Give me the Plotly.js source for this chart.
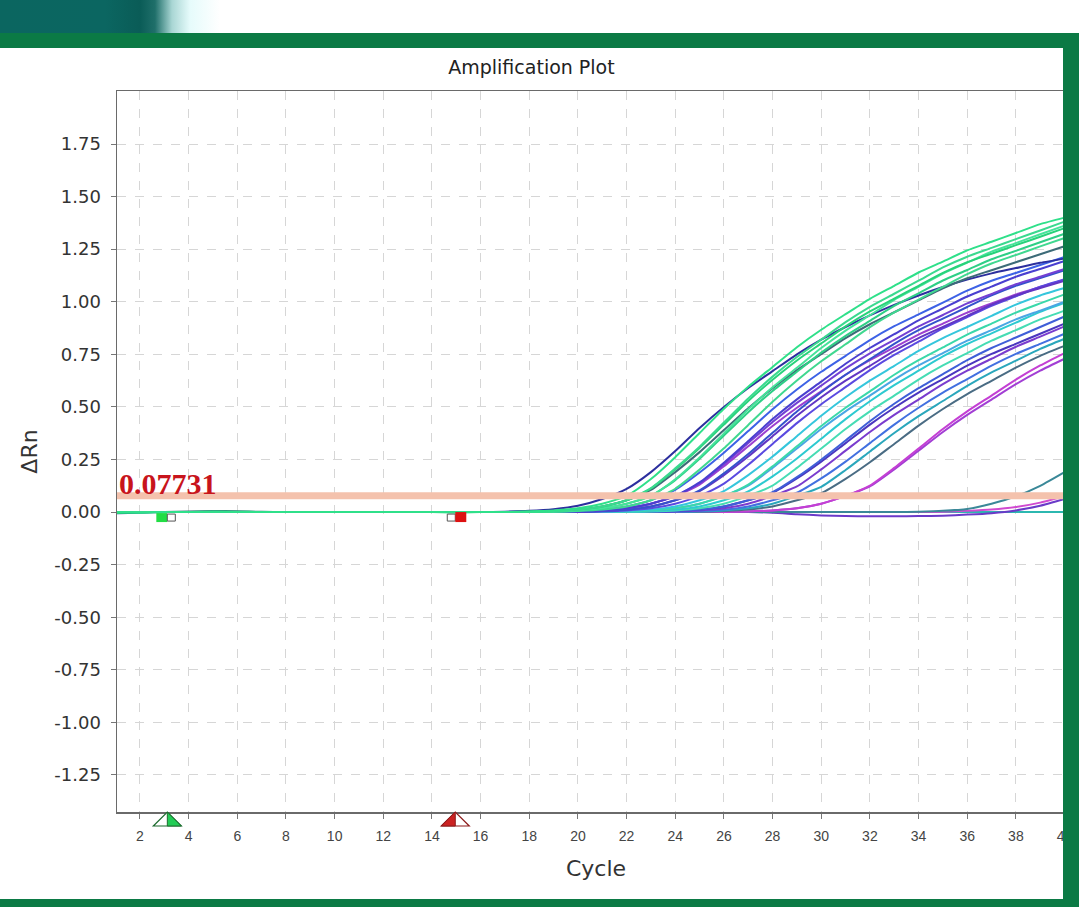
<!DOCTYPE html>
<html>
<head>
<meta charset="utf-8">
<script src="https://cdn.plot.ly/plotly-3.0.1.min.js"></script>
<style>
  html, body { margin: 0; padding: 0; background: #ffffff; overflow: hidden; }
  #chart { position: absolute; left: 0; top: 0; width: 1090px; height: 907px; }
  .frame { position: absolute; z-index: 10; pointer-events: none; }
</style>
</head>
<body>
<div id="chart"></div>
<div class="frame" style="left:0;top:0;width:230px;height:33px;background:linear-gradient(to right,#0b6660 0px,#0b6661 105px,#0a5c57 140px,#1f6f6a 155px,#a9d6d4 172px,#e6fbfb 190px,#ffffff 220px);"></div>
<div class="frame" style="left:0;top:33px;width:1079px;height:15px;background:#0b7a45;"></div>
<div class="frame" style="left:1063px;top:33px;width:16px;height:874px;background:#0b7a45;"></div>
<div class="frame" style="left:0;top:899px;width:1079px;height:8px;background:#0b7a45;"></div>
<script>
// ---------------- data ----------------
const cycles = [1,2,3,4,5,6,7,8,9,10,11,12,13,14,15,16,17,18,19,20,21,22,23,24,25,26,27,28,29,30,31,32,33,34,35,36,37,38,39,40];

const thresholdValue = 0.07731;
const baselineStart = 3;
const baselineEnd = 15;

const yTickVals = [-1.25,-1.0,-0.75,-0.5,-0.25,0,0.25,0.5,0.75,1.0,1.25,1.5,1.75];
const yTickText = ["-1.25","-1.00","-0.75","-0.50","-0.25","0.00","0.25","0.50","0.75","1.00","1.25","1.50","1.75"];
const xTickVals = [2,4,6,8,10,12,14,16,18,20,22,24,26,28,30,32,34,36,38,40];
const xTickText = ["2","4","6","8","10","12","14","16","18","20","22","24","26","28","30","32","34","36","38","40"];

// green group
const wellG1 = [0,-0.003,0,0,0.003, 0.002,0,0,0,0, 0,0,0,0,0, 0, 0,0.003,0.008,0.018,0.040,0.077,0.157,0.261,0.376,0.491,0.596,0.690,0.784,0.867,0.941,1.014,1.076,1.139,1.191,1.244,1.285,1.327,1.369,1.400];
const wellG2 = [0,0,0,0,0, 0,0,0,0,0, 0,0,0,0,0, 0, 0,0.001,0.005,0.012,0.027,0.056,0.114,0.208,0.311,0.426,0.540,0.644,0.737,0.820,0.903,0.976,1.038,1.100,1.163,1.214,1.256,1.298,1.339,1.381];
const wellG3 = [-0.004,-0.002,0,0,0, 0,0,0,0,0, 0,0,0,0,-0.002, 0, 0,0.001,0.005,0.012,0.027,0.056,0.112,0.203,0.305,0.416,0.528,0.629,0.721,0.802,0.883,0.954,1.015,1.076,1.137,1.188,1.228,1.269,1.309,1.350];
const wellG4 = [0,0,0,0,0, 0,0,0,0,0, 0,0,0,0,0, 0,0, 0,0.003,0.008,0.018,0.040,0.077,0.156,0.260,0.374,0.489,0.593,0.686,0.780,0.863,0.936,1.009,1.071,1.134,1.186,1.238,1.279,1.321,1.362];
const wellG5 = [0,0,0,0,0, 0,0,0,0,0, 0,0,0,0,0, 0,0, 0,0.003,0.008,0.018,0.040,0.077,0.152,0.253,0.364,0.475,0.576,0.667,0.758,0.838,0.909,0.980,1.040,1.101,1.151,1.202,1.242,1.283,1.323];
const wellG6 = [0,0,0,0,0, 0,0,0,0,0, 0,0,0,0,0, 0,0, 0,0.001,0.005,0.012,0.027,0.056,0.111,0.202,0.303,0.414,0.525,0.626,0.717,0.798,0.879,0.949,1.010,1.071,1.131,1.182,1.222,1.263,1.303];
const wellD1 = [0,0,0,0.003,0.005, 0.004,0.001,0,0,0, 0,0,0,0,0, 0,0, 0.001,0.005,0.012,0.027,0.056,0.105,0.190,0.285,0.390,0.494,0.589,0.675,0.751,0.827,0.893,0.950,1.007,1.064,1.112,1.150,1.188,1.226,1.264];
const wellN1 = [-0.006,-0.003,0,0,0, 0,0,0,0,0, 0,0,0,0,0, 0,0.002,0.006,0.014,0.030,0.062,0.110,0.190,0.290,0.400,0.500,0.590,0.670,0.750,0.820,0.880,0.935,0.985,1.030,1.070,1.105,1.135,1.160,1.185,1.205];
// blue / purple group
const wellB1 = [0,0,0,0,0, 0,0,0,0,0, 0,0,0,0,0, 0,0,0, 0.001,0.005,0.012,0.027,0.056,0.106,0.188,0.282,0.385,0.489,0.583,0.667,0.743,0.818,0.884,0.940,0.996,1.053,1.100,1.137,1.175,1.213];
const wellB2 = [0,0,0,0,0, 0,0,0,0,0, 0,0,0,0,0, 0,0,0,0, 0.003,0.008,0.018,0.040,0.077,0.141,0.235,0.338,0.442,0.536,0.620,0.705,0.780,0.846,0.912,0.968,1.025,1.072,1.119,1.156,1.194];
const wellB3 = [0,0,0,0,0, 0,0,0,0,0, 0,0,0,0,0, 0,0,0,0, 0.003,0.008,0.018,0.040,0.077,0.137,0.228,0.328,0.428,0.519,0.601,0.683,0.755,0.819,0.883,0.937,0.992,1.037,1.083,1.119,1.156];
const wellB4 = [0,0,0,0,0, 0,0,0,0,0, 0,0,0,0,0, 0,0,0,0, 0.001,0.005,0.012,0.027,0.056,0.103,0.184,0.276,0.377,0.478,0.570,0.653,0.727,0.800,0.865,0.920,0.975,1.030,1.076,1.113,1.150];
const wellB5 = [0,0,0,0,0, 0,0,0,0,0, 0,0,0,0,0, 0,0,0,0, 0.001,0.005,0.012,0.027,0.056,0.100,0.176,0.264,0.361,0.458,0.546,0.625,0.695,0.766,0.827,0.880,0.933,0.986,1.030,1.065,1.100];
const wellB6 = [0,0,0,0,0, 0,0,0,0,0, 0,0,0,0,0, 0,0,0,0,0, 0.003,0.008,0.018,0.040,0.077,0.135,0.225,0.324,0.423,0.513,0.594,0.675,0.747,0.810,0.873,0.927,0.981,1.026,1.071,1.107];
const wellB7 = [0,0,0,0,0, 0,0,0,0,0, 0,0,0,0,0, 0,0,0,0, 0.003,0.008,0.018,0.040,0.077,0.131,0.218,0.313,0.409,0.496,0.574,0.653,0.722,0.783,0.844,0.896,0.948,0.992,1.035,1.070,1.105];
// cyan group
const wellC1 = [0,0,0,0,0, 0,0,0,0,0, 0,0,0,0,0, 0,0,0,0,0, 0.001,0.005,0.012,0.027,0.056,0.100,0.176,0.264,0.361,0.458,0.546,0.625,0.695,0.766,0.827,0.880,0.933,0.986,1.030,1.065];
const wellC2 = [0,0,0,0,0, 0,0,0,0,0, 0,0,0,0,0, 0,0,0,0,0, 0, 0.003,0.008,0.018,0.040,0.077,0.131,0.218,0.313,0.409,0.496,0.574,0.653,0.722,0.783,0.844,0.896,0.948,0.992,1.035];
const wellC3 = [0,0,0,0,0, 0,0,0,0,0, 0,0,0,0,0, 0,0,0,0,0, 0, 0.003,0.008,0.018,0.040,0.077,0.126,0.210,0.302,0.395,0.479,0.554,0.630,0.697,0.756,0.815,0.865,0.916,0.958,1.000];
const wellC4 = [0,0,0,0,0, 0,0,0,0,0, 0,0,0,0,0, 0,0,0,0,0, 0, 0.001,0.005,0.012,0.027,0.056,0.098,0.170,0.255,0.349,0.442,0.527,0.604,0.672,0.740,0.799,0.850,0.901,0.952,0.995];
const wellC5 = [0,0,0,0,0, 0,0,0,0,0, 0,0,0,0,0, 0,0,0,0,0, 0,0, 0.003,0.008,0.018,0.040,0.077,0.126,0.210,0.302,0.395,0.479,0.554,0.630,0.697,0.756,0.815,0.865,0.916,0.958];
// later blue / purple group
const wellP1 = [0,0,0,0,0, 0,0,0,0,0, 0,0,0,0,0, 0,0,0,0,0, 0,0, 0.001,0.005,0.012,0.027,0.056,0.095,0.166,0.249,0.340,0.432,0.515,0.589,0.656,0.722,0.780,0.830,0.880,0.930];
const wellP2 = [0,0,0,0,0, 0,0,0,0,0, 0,0,0,0,0, 0,0,0,0,0, 0,0, 0.001,0.005,0.012,0.027,0.056,0.092,0.160,0.240,0.328,0.416,0.496,0.568,0.632,0.696,0.752,0.800,0.848,0.896];
const wellP3 = [0,0,0,0,0, 0,0,0,0,0, 0,0,0,0,0, 0,0,0,0,0, 0,0,0, 0.003,0.008,0.018,0.040,0.077,0.122,0.203,0.292,0.381,0.462,0.535,0.608,0.672,0.729,0.786,0.834,0.883];
const wellP4 = [0,0,0,0,0, 0,0,0,0,0, 0,0,0,0,0, 0,0,0,0,0, 0,0,0, 0.001,0.005,0.012,0.027,0.056,0.092,0.160,0.240,0.328,0.416,0.496,0.568,0.632,0.696,0.752,0.800,0.848];
// teal and magenta
const wellT1 = [0,0,0,0,0, 0,0,0,0,0, 0,0,0,0,0, 0,0,0,0,0, 0,0,0,0, 0.003,0.008,0.018,0.040,0.077,0.120,0.200,0.288,0.376,0.456,0.528,0.600,0.664,0.720,0.776,0.824];
const wellT2 = [0,0,0,0,0, 0,0,0,0,0, 0,0,0,0,0, 0,0,0,0,0, 0,0,0,0, 0.001,0.005,0.012,0.027,0.056,0.090,0.158,0.237,0.324,0.411,0.490,0.561,0.624,0.687,0.743,0.790];
const wellM1 = [0,0,0,0,0, 0,0,0,0,0, 0,0,0,0,0, 0,0,0,0,0, 0,0,0,0,0, 0, 0.003,0.008,0.018,0.040,0.077,0.126,0.210,0.302,0.395,0.479,0.554,0.630,0.697,0.756];
const wellM2 = [0,0,0,0,0, 0,0,0,0,0, 0,0,0,0,0, 0,0,0,0,0, 0,0,0,0,0, 0, 0.003,0.008,0.018,0.040,0.077,0.122,0.203,0.292,0.381,0.462,0.535,0.608,0.672,0.729];
// late / non-amplifying wells
const wellL1 = [0,0,0,0,0, 0,0,0,0,0, 0,0,0,0,0, 0,0,0,0,0, 0,0,0,0,0, 0,0,0,0,0, 0,0,0, 0.002,0.006,0.015,0.040,0.075,0.125,0.190];
const wellL2 = [0,0,0,0,0, 0,0,0,0,0, 0,0,0,0,0, 0,0,0,0,0, 0,0,0,0,0, 0,0, -0.003,-0.010,-0.016,-0.019,-0.020,-0.020,-0.019,-0.017,-0.012,-0.005,0.008,0.030,0.062];
const wellL3 = [0,0,0,0,0, 0,0,0,0,0, 0,0,0,0,0, 0,0,0,0,0, 0,0,0,0,0, 0,0,0,0,0, 0,0,0,0, 0.002,0.006,0.012,0.024,0.045,0.075];
const wellL4 = [0,0,0,0,0, 0,0,0,0,0, 0,0,0,0,0, 0,0,0,0,0, 0,0,0,0,0, 0,0,0,0,0, 0,0,0,0,0, 0,0,0,0,0];

// draw order (first = bottom) and colours
const wells = [
  [wellL4, '#2cb8b0'], [wellL3, '#d04ad0'], [wellL2, '#6a3ac8'], [wellL1, '#3a8898'],
  [wellM2, '#a23ed4'], [wellM1, '#c43fd4'],
  [wellT2, '#4a6c84'], [wellT1, '#2aa7bc'],
  [wellP4, '#4270e0'], [wellP3, '#7a3cce'], [wellP2, '#4b36bf'], [wellP1, '#3f5ed8'],
  [wellC5, '#46dcb4'], [wellC4, '#2dcad0'], [wellC3, '#4aa6e4'], [wellC2, '#3ad8aa'], [wellC1, '#35c6dc'],
  [wellB7, '#9b3fd0'], [wellB6, '#5a4ae0'], [wellB5, '#6236c4'], [wellB4, '#3552cc'], [wellB3, '#7340d4'], [wellB2, '#4a3fd0'], [wellB1, '#3d62e6'],
  [wellN1, '#2c2f9e'], [wellD1, '#3d6b78'],
  [wellG6, '#40d890'], [wellG5, '#2ecf86'], [wellG4, '#45e39a'], [wellG3, '#27d27a'], [wellG2, '#3ad98f'], [wellG1, '#2fe08a']
];

const traces = wells.map(function (w) {
  return {
    type: 'scatter', mode: 'lines', x: cycles, y: w[0],
    line: { color: w[1], width: 2, shape: 'spline', smoothing: 0.6 },
    hoverinfo: 'skip', showlegend: false
  };
});

const fontSans = '"Liberation Sans", Arial, sans-serif';
const fontWide = '"DejaVu Sans", "Liberation Sans", sans-serif';

const shapes = [
  // threshold band
  { type: 'line', xref: 'paper', x0: 0, x1: 1, yref: 'y', y0: thresholdValue, y1: thresholdValue,
    line: { color: '#f4c2ad', width: 7 }, layer: 'above' },
  // baseline start markers
  { type: 'rect', xref: 'x', xsizemode: 'pixel', xanchor: baselineStart, x0: -8, x1: 3,
    yref: 'y', ysizemode: 'pixel', yanchor: 0, y0: -1, y1: -10, fillcolor: '#22dd44', line: { width: 0 }, layer: 'above' },
  { type: 'rect', xref: 'x', xsizemode: 'pixel', xanchor: baselineStart, x0: 3, x1: 11,
    yref: 'y', ysizemode: 'pixel', yanchor: 0, y0: -2, y1: -9, fillcolor: '#ffffff', line: { color: '#555555', width: 1 }, layer: 'above' },
  // baseline end markers
  { type: 'rect', xref: 'x', xsizemode: 'pixel', xanchor: baselineEnd, x0: -9, x1: -1,
    yref: 'y', ysizemode: 'pixel', yanchor: 0, y0: -2, y1: -9, fillcolor: '#ffffff', line: { color: '#555555', width: 1 }, layer: 'above' },
  { type: 'rect', xref: 'x', xsizemode: 'pixel', xanchor: baselineEnd, x0: -1, x1: 10,
    yref: 'y', ysizemode: 'pixel', yanchor: 0, y0: 0, y1: -10, fillcolor: '#dd1111', line: { width: 0 }, layer: 'above' },
  // triangles on the x axis
  { type: 'path', xref: 'x', xsizemode: 'pixel', xanchor: baselineStart, yref: 'paper', ysizemode: 'pixel', yanchor: 0,
    path: 'M-11,-14 L3,0 L17,-14 Z', fillcolor: '#ffffff', line: { color: '#1d6b2e', width: 1.2 }, layer: 'above' },
  { type: 'path', xref: 'x', xsizemode: 'pixel', xanchor: baselineStart, yref: 'paper', ysizemode: 'pixel', yanchor: 0,
    path: 'M3,0 L17,-14 L3,-14 Z', fillcolor: '#22cc55', line: { color: '#1d6b2e', width: 1 }, layer: 'above' },
  { type: 'path', xref: 'x', xsizemode: 'pixel', xanchor: baselineEnd, yref: 'paper', ysizemode: 'pixel', yanchor: 0,
    path: 'M-15,-14 L-1,0 L13,-14 Z', fillcolor: '#ffffff', line: { color: '#8b1a1a', width: 1.2 }, layer: 'above' },
  { type: 'path', xref: 'x', xsizemode: 'pixel', xanchor: baselineEnd, yref: 'paper', ysizemode: 'pixel', yanchor: 0,
    path: 'M-15,-14 L-1,0 L-1,-14 Z', fillcolor: '#cc2222', line: { color: '#8b1a1a', width: 1 }, layer: 'above' }
];

const layout = {
  width: 1090, height: 907,
  margin: { l: 117, r: 15, t: 91, b: 95, pad: 0 },
  paper_bgcolor: '#ffffff', plot_bgcolor: '#ffffff',
  showlegend: false,
  font: { family: fontSans, color: '#333333' },
  title: { text: 'Amplification Plot', xref: 'container', yref: 'container', x: 0.4876, y: 0.926,
           xanchor: 'center', yanchor: 'middle', font: { family: fontWide, size: 19, color: '#222222' } },
  xaxis: {
    range: [1.055, 40.43], tickmode: 'array', tickvals: xTickVals, ticktext: xTickText,
    showgrid: true, gridcolor: '#d6d6d6', griddash: 'dash', gridwidth: 1, zeroline: false,
    showline: true, linecolor: '#6a6a6a', linewidth: 1.5, mirror: true,
    ticks: 'outside', ticklen: 5, tickcolor: '#777777', ticklabelstandoff: 6,
    tickfont: { family: fontSans, size: 14, color: '#444444' },
    title: { text: 'Cycle', standoff: 17, font: { family: fontWide, size: 22, color: '#333333' } },
    automargin: false
  },
  yaxis: {
    range: [-1.426, 2.002], tickmode: 'array', tickvals: yTickVals, ticktext: yTickText,
    showgrid: true, gridcolor: '#d6d6d6', griddash: 'dash', gridwidth: 1, zeroline: false,
    showline: true, linecolor: '#6a6a6a', linewidth: 1.5, mirror: true,
    ticks: 'outside', ticklen: 5, tickcolor: '#777777', ticklabelstandoff: 6,
    tickfont: { family: fontWide, size: 18, color: '#333333' },
    title: { text: 'ΔRn', standoff: 10, font: { family: fontWide, size: 22, color: '#333333' } },
    automargin: false
  },
  shapes: shapes,
  annotations: [{
    xref: 'paper', x: 0, xanchor: 'left', yref: 'y', y: thresholdValue, yanchor: 'bottom', yshift: -6,
    text: String(thresholdValue), showarrow: false,
    font: { family: '"Liberation Serif", "Times New Roman", serif', size: 30, color: '#c8141c', weight: 'bold' }
  }]
};

Plotly.newPlot('chart', traces, layout, { displayModeBar: false, staticPlot: true });
</script>
</body>
</html>
